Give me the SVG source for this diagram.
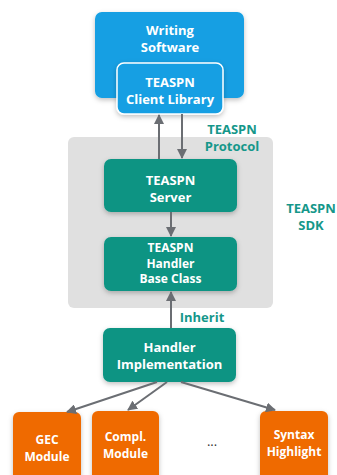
<svg xmlns="http://www.w3.org/2000/svg" width="337" height="475" viewBox="0 0 337 475">
<defs>
<filter id="sh" x="-20%" y="-20%" width="140%" height="150%">
<feDropShadow dx="0" dy="2" stdDeviation="2.5" flood-color="#000" flood-opacity="0.25"/>
</filter>
<marker id="ah" viewBox="0 0 10 10" refX="9" refY="5" markerWidth="10" markerHeight="10" markerUnits="userSpaceOnUse" orient="auto">
<path d="M0,0 L10,5 L0,10 z" fill="#6b6e73"/>
</marker>
</defs>
<style>
text{font-family:"Open Sans",Lato,"Liberation Sans",sans-serif;font-weight:bold;font-size:13px;text-anchor:middle}
.s{font-size:12px}
.w{fill:#fff}
.t{fill:#15978a}
.blue{fill:#129fe3}
.teal{fill:#0d9483}
.orange{fill:#ef6b00}
.conn line{stroke:#6b6e73;stroke-width:2;marker-end:url(#ah)}
</style>
<rect id="sdk" x="68" y="137" width="205" height="171" rx="6" fill="#e0e0e0"/>
<g id="writing-software">
<rect class="blue" x="95" y="12" width="149" height="86" rx="7" filter="url(#sh)"/>
<text class="w" x="170" y="35">Writing</text>
<text class="w" x="170" y="52">Software</text>
</g>
<g id="client-library">
<rect class="blue" x="117" y="63" width="106" height="51" rx="7" stroke="#fff" stroke-width="1.5" filter="url(#sh)"/>
<text class="w" x="170" y="87">TEASPN</text>
<text class="w" x="170" y="104">Client Library</text>
</g>
<g id="server">
<rect class="teal" x="104" y="159" width="133" height="53" rx="7" filter="url(#sh)"/>
<text class="w" x="170.5" y="185">TEASPN</text>
<text class="w" x="170.5" y="202">Server</text>
</g>
<g id="base-class">
<rect class="teal" x="104" y="237" width="133" height="54" rx="7" filter="url(#sh)"/>
<text class="w s" x="170.5" y="252">TEASPN</text>
<text class="w s" x="170.5" y="267.5">Handler</text>
<text class="w s" x="170.5" y="283">Base Class</text>
</g>
<g id="handler-impl">
<rect class="teal" x="103" y="328" width="133" height="54" rx="7" filter="url(#sh)"/>
<text class="w" x="169.5" y="352">Handler</text>
<text class="w" x="169.5" y="369">Implementation</text>
</g>
<g id="gec">
<rect class="orange" x="13" y="412" width="68" height="75" rx="6" filter="url(#sh)"/>
<text class="w s" x="47" y="444">GEC</text>
<text class="w s" x="47" y="461">Module</text>
</g>
<g id="compl">
<rect class="orange" x="92" y="411" width="67" height="76" rx="6" filter="url(#sh)"/>
<text class="w s" x="125.5" y="441">Compl.</text>
<text class="w s" x="125.5" y="458">Module</text>
</g>
<g id="syntax">
<rect class="orange" x="260" y="411" width="68" height="76" rx="6" filter="url(#sh)"/>
<text class="w s" x="294" y="439">Syntax</text>
<text class="w s" x="294" y="456">Highlight</text>
</g>
<text id="dots" x="212" y="446" style="font-weight:normal;fill:#333">...</text>
<g id="labels">
<text class="t" x="232" y="134">TEASPN</text>
<text class="t" x="232" y="151">Protocol</text>
<text class="t" x="311" y="213">TEASPN</text>
<text class="t" x="311" y="230">SDK</text>
<text class="t" x="202" y="322">Inherit</text>
</g>
<g id="connectors" class="conn">
<line x1="159" y1="159" x2="159" y2="115"/>
<line x1="182" y1="114" x2="182" y2="158"/>
<line x1="171" y1="212" x2="171" y2="236"/>
<line x1="171" y1="328" x2="171" y2="292"/>
<line x1="157" y1="382" x2="67" y2="412"/>
<line x1="167" y1="382" x2="128" y2="410"/>
<line x1="181" y1="382" x2="275" y2="410"/>
</g>
</svg>
